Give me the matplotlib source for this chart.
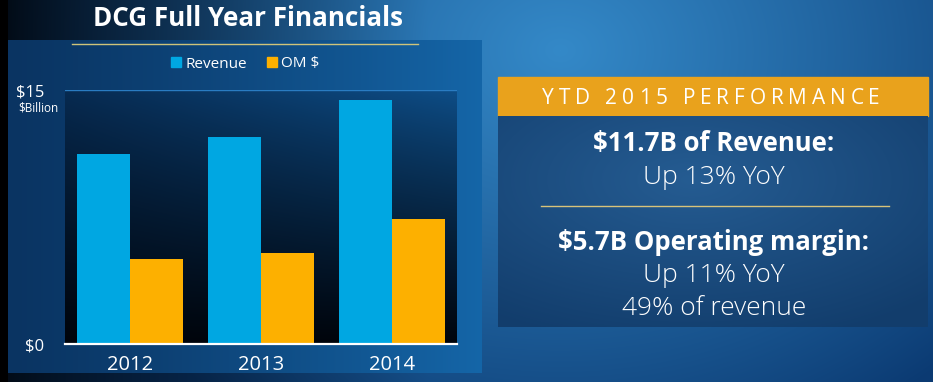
import numpy as np
import matplotlib
matplotlib.use('Agg')
import matplotlib.pyplot as plt
from matplotlib.patches import Rectangle, Patch
from matplotlib.colors import to_rgb

# ---------------- data ----------------
years = ['2012', '2013', '2014']
revenue = [11.2, 12.2, 14.4]
om = [5.0, 5.4, 7.4]
series_labels = ['Revenue', 'OM $']
ytick_vals = [0, 15]
ytick_labels = ['$0', '$15']
unit_label = '$Billion'
title = 'DCG Full Year Financials'
ytd_header = 'YTD 2015 PERFORMANCE'
ytd_lines = ['$11.7B of Revenue:', 'Up 13% YoY', '$5.7B Operating margin:',
             'Up 11% YoY', '49% of revenue']
ytd_bold = [True, False, True, False, False]

# ---------------- style ----------------
FONT = 'Open Sans'
plt.rcParams['font.family'] = [FONT, 'DejaVu Sans']
REV_C = '#00A7E2'
OM_C = '#FDB000'

W, H = 933, 382
fig = plt.figure(figsize=(W / 100, H / 100), dpi=100)
bg = fig.add_axes([0, 0, 1, 1])
bg.set_xlim(0, W)
bg.set_ylim(H, 0)
bg.axis('off')


def lerp(c1, c2, t):
    c1 = np.array(to_rgb(c1))
    c2 = np.array(to_rgb(c2))
    return c1 + (c2 - c1) * t[..., None]


# background gradient
yy, xx = np.mgrid[0:H, 0:W].astype(float)
d = np.sqrt((xx - 560) ** 2 + ((yy - 50) * 1.3) ** 2)
f = np.clip(1 - d / 560, 0, 1) ** 0.9
img = lerp('#0B3A72', '#3489C8', f)
lf = np.clip((xx - 8) / 420, 0, 1) ** 0.8
img = img * (0.2 + 0.8 * lf)[..., None]
img[:, :8] = 0
bg.imshow(np.clip(img, 0, 1), extent=[0, W, H, 0], aspect='auto', zorder=0,
          interpolation='bilinear')
bg.set_xlim(0, W)
bg.set_ylim(H, 0)

# chart panel gradient
px0, px1, py0, py1 = 8, 482, 40, 373
pw, ph = px1 - px0, py1 - py0
pyy, pxx = np.mgrid[0:ph, 0:pw].astype(float)
pimg = lerp('#0A3462', '#1566A8', (pxx / pw) ** 1.2)
bg.imshow(pimg, extent=[px0, px1, py1, py0], aspect='auto', zorder=1)

# yellow rule at top of panel
bg.plot([72, 418], [43.5, 43.5], color='#CFC47A', lw=1, zorder=2)

# title
bg.text(248, 26, title, ha='center', va='baseline', color='white',
        fontsize=18.7, fontweight='bold', zorder=3)

# unit label
bg.text(38, 111, unit_label, ha='center', va='baseline', color='white',
        fontsize=8.5, zorder=3)

# ---------------- chart axes ----------------
ax = fig.add_axes([65 / W, (H - 344) / H, (457 - 65) / W, (344 - 90) / H])
ax.set_facecolor('none')
ay, ax_ = np.mgrid[0:200, 0:200].astype(float)
top = lerp('#072B52', '#0E4E88', ax_ / 199)
t = (ay / 199) ** 0.85
plot_img = top * (1 - t)[..., None] + np.array(to_rgb('#00040B')) * t[..., None]
ax.imshow(plot_img, extent=[-0.5, 2.5, 0, 15], aspect='auto', zorder=0)

x = np.arange(len(years))
bw = 0.405
ax.bar(x - bw / 2, revenue, bw, color=REV_C, zorder=2, label=series_labels[0])
ax.bar(x + bw / 2, om, bw, color=OM_C, zorder=2, label=series_labels[1])
ax.axhline(15, color='#2A7CC2', lw=1, zorder=1)
ax.axhline(0, color='white', lw=1.6, zorder=3, clip_on=False)

ax.set_xlim(-0.5, 2.5)
ax.set_ylim(0, 15)
for s in ax.spines.values():
    s.set_visible(False)
ax.set_xticks(x, years)
ax.set_yticks(ytick_vals, ytick_labels)
ax.tick_params(axis='x', length=0, pad=8, labelsize=14.5, labelcolor='white')
ax.tick_params(axis='y', length=0, pad=15, labelsize=12, labelcolor='white')

handles = [Patch(color=REV_C), Patch(color=OM_C)]
ax.legend(handles, series_labels, ncol=2, loc='center',
          bbox_to_anchor=(245 / W, 1 - 64 / H), bbox_transform=fig.transFigure,
          frameon=False, handlelength=0.65, handleheight=0.65,
          handletextpad=0.3, columnspacing=1.3, fontsize=11,
          labelcolor='white', borderpad=0)

# ---------------- right box ----------------
bx0, bx1 = 498, 928
bg.add_patch(Rectangle((bx0, 77), bx1 - bx0, 116 - 77, color='#E9A21C', zorder=2))
by0, by1 = 116, 327
bh, bwid = by1 - by0, bx1 - bx0
byy, bxx = np.mgrid[0:bh, 0:bwid].astype(float)
bd = np.sqrt(((bxx - bwid * 0.45) / bwid) ** 2 + ((byy - bh * 0.3) / bh) ** 2)
bimg = lerp('#255C92', '#123D6C', np.clip(bd / 0.8, 0, 1))
bg.imshow(bimg, extent=[bx0, bx1, by1, by0], aspect='auto', zorder=2)
bg.set_xlim(0, W)
bg.set_ylim(H, 0)

# letter-spaced header
renderer = fig.canvas.get_renderer()
hkw = dict(fontsize=15, color='white', zorder=4)


def text_width(s):
    tt = bg.text(0, 0, s, **hkw)
    w = tt.get_window_extent(renderer).width
    tt.remove()
    return w


base = text_width('HH')
adv = [text_width('H' + c + 'H') - base for c in ytd_header]
target = 338
extra = (target - sum(adv)) / (len(ytd_header) - 1)
cx = 711 - target / 2
for c, a in zip(ytd_header, adv):
    bg.text(cx, 103.5, c, ha='left', va='baseline', **hkw)
    cx += a + extra

baselines = [151, 183.5, 250, 282, 315]
for s, b, yb in zip(ytd_lines, ytd_bold, baselines):
    bg.text(714, yb, s, ha='center', va='baseline', color='white',
            fontsize=18.5 if b else 19, fontweight='bold' if b else 'light',
            zorder=4)

bg.plot([541, 889], [206, 206], color='#D8C37A', lw=1, zorder=4)

fig.savefig('out.png', dpi=100)
